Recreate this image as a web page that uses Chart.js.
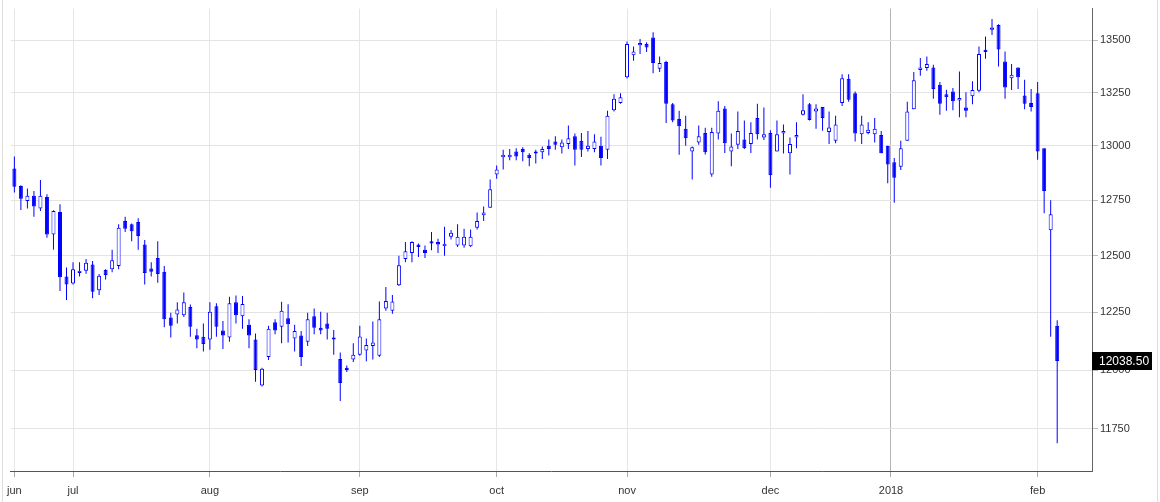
<!DOCTYPE html>
<html>
<head>
<meta charset="utf-8">
<script src="https://cdn.jsdelivr.net/npm/chart.js@4"></script>
<style>
    html, body { margin: 0; padding: 0; background: #fff; }
    #wrap { position: relative; width: 1160px; height: 502px; }
    #frame { position: absolute; left: 2px; top: 0; width: 1154px; height: 502px;
             border-left: 1px solid #ddd; border-right: 1px solid #ddd; pointer-events: none; }
</style>
</head>
<body>
<div id="wrap">
    <canvas id="myChart1" width="1160" height="502"></canvas>
    <div id="frame"></div>
</div>
<script>
// daily candles, jun 2017 -> feb 2018 (one entry per trading day)
var opens = [
    12895, 12815, 12747, 12770, 12712, 12765, 12595, 12697, 12408, 12376,
    12423, 12433, 12461, 12347, 12436, 12440, 12454, 12656, 12641, 12651,
    12550, 12443, 12490, 12429, 12227, 12240, 12237, 12273, 12150, 12143,
    12131, 12276, 12170, 12140, 12294, 12233, 12196, 12131, 11934, 12056,
    12206, 12187, 12224, 12136, 12149, 12122, 12233, 12182, 12201, 12140,
    12047, 12010, 12045, 12066, 12084, 12103, 12061, 12266, 12257, 12369,
    12485, 12512, 12550, 12527, 12565, 12561, 12542, 12585, 12546, 12546,
    12542, 12625, 12682, 12716, 12868, 12947, 12947, 12974, 12985, 12959,
    12974, 12970, 13000, 13020, 12994, 13009, 13045, 13024, 12985, 12985,
    13000, 12982, 13166, 13201, 13322, 13427, 13475, 13481, 13513, 13363,
    13395, 13194, 13125, 13080, 12974, 13015, 13060, 12868, 13057, 13175,
    12974, 13005, 13030, 13009, 13130, 13039, 13060, 12974, 13057, 12966,
    13039, 13145, 13194, 13160, 13182, 13065, 13024, 13201, 13315, 13247,
    13054, 13060, 13054, 13050, 13000, 12924, 12903, 13024, 13171, 13357,
    13366, 13369, 13287, 13242, 13255, 13212, 13179, 13232, 13258, 13454,
    13550, 13573, 13398, 13318, 13369, 13236, 13201, 13247, 12989, 12614,
    12191
];
var highs = [
    12951, 12818, 12804, 12792, 12842, 12777, 12705, 12732, 12447, 12471,
    12471, 12485, 12476, 12419, 12440, 12527, 12641, 12675, 12645, 12668,
    12570, 12471, 12565, 12454, 12248, 12294, 12337, 12284, 12178, 12201,
    12294, 12290, 12212, 12318, 12324, 12321, 12219, 12157, 12010, 12191,
    12219, 12296, 12285, 12196, 12168, 12248, 12266, 12252, 12248, 12173,
    12075, 12019, 12115, 12191, 12136, 12210, 12297, 12361, 12326, 12500,
    12561, 12565, 12555, 12546, 12606, 12576, 12630, 12615, 12641, 12621,
    12618, 12694, 12721, 12845, 12909, 12982, 12985, 12989, 12994, 12966,
    12982, 12997, 13030, 13045, 13030, 13095, 13057, 13060, 13069, 13054,
    13042, 13164, 13242, 13247, 13494, 13470, 13506, 13490, 13538, 13422,
    13401, 13201, 13164, 13141, 12997, 13095, 13084, 13084, 13209, 13186,
    13057, 13160, 13118, 13110, 13197, 13179, 13073, 13118, 13100, 13039,
    13110, 13242, 13201, 13194, 13182, 13160, 13141, 13337, 13337, 13255,
    13141, 13110, 13130, 13069, 13000, 12944, 13024, 13206, 13347, 13414,
    13422, 13382, 13300, 13263, 13271, 13350, 13251, 13303, 13470, 13518,
    13602, 13577, 13446, 13385, 13369, 13310, 13267, 13300, 12989, 12750,
    12215
];
var lows = [
    12785, 12706, 12712, 12675, 12701, 12580, 12527, 12343, 12304, 12372,
    12408, 12420, 12312, 12326, 12394, 12426, 12440, 12606, 12565, 12527,
    12372, 12408, 12380, 12185, 12140, 12201, 12229, 12143, 12094, 12080,
    12087, 12143, 12090, 12122, 12201, 12178, 12094, 11950, 11930, 12043,
    12154, 12115, 12118, 12080, 12017, 12103, 12154, 12154, 12132, 12066,
    11868, 11992, 12034, 12061, 12038, 12045, 12056, 12257, 12243, 12366,
    12471, 12471, 12494, 12490, 12524, 12512, 12500, 12573, 12539, 12535,
    12539, 12618, 12656, 12716, 12848, 12891, 12933, 12933, 12929, 12906,
    12918, 12939, 12955, 12982, 12964, 12985, 12909, 12948, 12974, 12970,
    12909, 12939, 13160, 13197, 13316, 13401, 13433, 13443, 13342, 13347,
    13106, 13110, 12959, 13000, 12845, 13005, 12960, 12857, 13030, 12967,
    12906, 12985, 12985, 12967, 13030, 13027, 12807, 12974, 12964, 12868,
    12989, 13142, 13118, 13080, 13070, 13009, 13012, 13186, 13206, 13020,
    13009, 13054, 13015, 12966, 12827, 12739, 12888, 13024, 13171, 13330,
    13353, 13221, 13145, 13164, 13166, 13133, 13133, 13194, 13251, 13411,
    13525, 13374, 13221, 13262, 13267, 13171, 13160, 12936, 12691, 12143,
    11690
];
var closes = [
    12812, 12757, 12770, 12721, 12770, 12595, 12701, 12404, 12372, 12440,
    12433, 12468, 12340, 12411, 12414, 12480, 12625, 12621, 12610, 12588,
    12423, 12429, 12419, 12219, 12191, 12262, 12294, 12187, 12131, 12112,
    12252, 12187, 12149, 12290, 12237, 12286, 12149, 12000, 12005, 12178,
    12170, 12257, 12198, 12168, 12056, 12219, 12182, 12170, 12178, 12131,
    11945, 12000, 12066, 12145, 12108, 12118, 12219, 12299, 12297, 12457,
    12520, 12561, 12539, 12512, 12555, 12550, 12553, 12603, 12585, 12585,
    12585, 12656, 12694, 12800, 12891, 12959, 12959, 12951, 12970, 12944,
    12964, 12985, 12985, 13005, 13015, 13035, 12982, 12982, 13000, 13020,
    12944, 13141, 13221, 13227, 13481, 13446, 13486, 13465, 13390, 13390,
    13197, 13118, 13091, 13035, 12994, 13045, 12970, 13065, 13164, 13012,
    12997, 13069, 12989, 13060, 13054, 13054, 12864, 13054, 13069, 13009,
    13050, 13166, 13121, 13175, 13130, 13085, 13100, 13318, 13216, 13057,
    13100, 13075, 13080, 12966, 12914, 12853, 12989, 13160, 13308, 13369,
    13385, 13267, 13197, 13227, 13209, 13224, 13164, 13262, 13433, 13443,
    13561, 13455, 13274, 13334, 13322, 13197, 13182, 12974, 12792, 12686,
    12038.5
];

// month labels and the trading-day index where each month starts
var monthLabels = ['jun', 'jul', 'aug', 'sep', 'oct', 'nov', 'dec', '2018', 'feb'];
var monthStart = [0, 9, 30, 53, 74, 94, 116, 134.5, 157];
var yTicks = [11750, 12000, 12250, 12500, 12750, 13000, 13250, 13500];

var upColor = '#ffffff';
var candleColor = '#0000ff';
var fontFamily = '"Liberation Sans", Arial, sans-serif';

var bodies = [];
var wicks = [];
var fills = [];
for (let i = 0; i < closes.length; i++) {
    bodies.push({ x: i, y: [opens[i], closes[i]] });
    wicks.push({ x: i, y: [lows[i], highs[i]] });
    fills.push(closes[i] < opens[i] ? candleColor : upColor);
}

// black box with the last close on the price axis
const lastPriceLabel = {
    id: 'lastPriceLabel',
    afterDraw(chart) {
        const ctx = chart.ctx;
        const area = chart.chartArea;
        const last = closes[closes.length - 1];
        const y = Math.round(chart.scales.y.getPixelForValue(last));
        ctx.save();
        ctx.fillStyle = '#000';
        ctx.fillRect(area.right, y - 9, 60, 18);
        ctx.fillStyle = '#fff';
        ctx.font = '12px ' + fontFamily;
        ctx.textBaseline = 'middle';
        ctx.fillText(last.toFixed(2), area.right + 7, y + 0.5);
        ctx.restore();
    }
};

const configMyChart1 = {
    type: 'bar',
    data: {
        datasets: [
            {
                label: 'body',
                data: bodies,
                order: 0,
                grouped: false,
                barThickness: 4,
                minBarLength: 2,
                inflateAmount: 0,
                backgroundColor: fills,
                borderColor: candleColor,
                borderWidth: 1,
                borderSkipped: false
            },
            {
                label: 'wick',
                data: wicks,
                order: 1,
                grouped: false,
                barThickness: 1,
                inflateAmount: 0,
                backgroundColor: candleColor,
                borderWidth: 0
            }
        ]
    },
    options: {
        responsive: false,
        animation: false,
        layout: { autoPadding: false, padding: { left: 7, right: 0, top: 0, bottom: 0 } },
        plugins: {
            legend: { display: false },
            tooltip: { enabled: false }
        },
        scales: {
            x: {
                type: 'linear',
                offset: false,
                min: -0.566,
                max: 165.34,
                afterBuildTicks: (scale) => {
                    scale.ticks = monthStart.map(v => ({ value: v }));
                },
                afterFit: (scale) => { scale.height = 31; },
                ticks: {
                    autoSkip: false,
                    maxRotation: 0,
                    padding: 7,
                    color: '#333',
                    font: { family: fontFamily, size: 11 },
                    callback: (value, index) => monthLabels[index]
                },
                grid: {
                    offset: false,
                    color: (c) => monthLabels[c.index] === '2018' ? '#b4b4b4' : '#e6e6e6',
                    tickLength: 6,
                    tickColor: '#aaa'
                },
                border: { color: '#555' }
            },
            y: {
                type: 'logarithmic',
                position: 'right',
                min: 11575,
                max: 13653,
                afterBuildTicks: (scale) => {
                    scale.ticks = yTicks.map(v => ({ value: v }));
                },
                afterFit: (scale) => { scale.width = 68; },
                ticks: {
                    padding: 2,
                    color: '#333',
                    font: { family: fontFamily, size: 11 },
                    callback: (value) => String(value)
                },
                grid: {
                    color: '#e4e4e4',
                    tickLength: 6,
                    tickColor: '#bbb'
                },
                border: { color: '#666' }
            }
        }
    },
    plugins: [lastPriceLabel]
};

let myChart1 = new Chart(document.getElementById('myChart1'), configMyChart1);
</script>
</body>
</html>
